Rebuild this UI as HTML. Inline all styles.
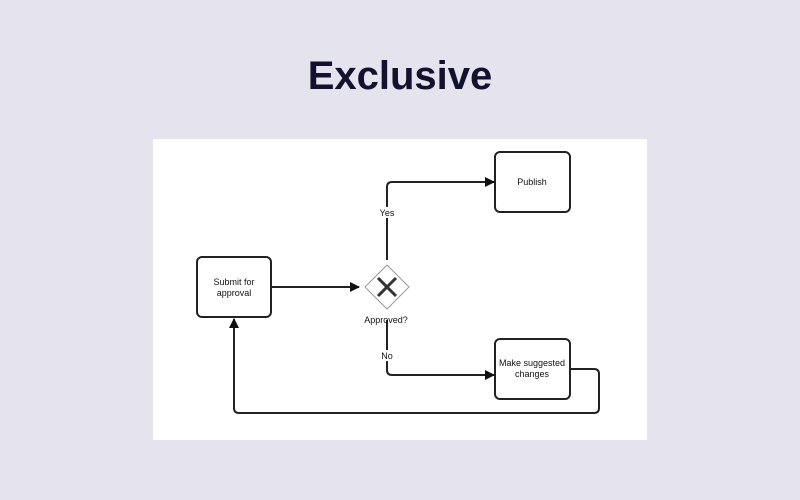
<!DOCTYPE html>
<html><head><style>
html,body{margin:0;padding:0;width:800px;height:500px;background:#e4e3ee;overflow:hidden;font-family:"Liberation Sans",sans-serif}
h1{position:absolute;top:51px;left:0;width:800px;text-align:center;margin:0;font-size:40px;font-weight:bold;color:#13112d;line-height:50px}
</style></head><body>
<h1>Exclusive</h1>
<svg width="800" height="500" style="position:absolute;left:0;top:0" font-family="Liberation Sans, sans-serif">
<defs><marker id="a" markerWidth="10" markerHeight="10" refX="9" refY="5" orient="auto" markerUnits="userSpaceOnUse"><path d="M0,0 L10,5 L0,10z" fill="#111"/></marker></defs>
<rect x="153" y="139" width="494" height="301" fill="#fff"/>
<g fill="none" stroke="#222" stroke-width="2">
<rect x="197" y="257" width="74" height="60" rx="5"/>
<rect x="495" y="152" width="75" height="60" rx="5"/>
<rect x="495" y="339" width="75" height="60" rx="5"/>
<path d="M271,287 H359" marker-end="url(#a)"/>
<path d="M387,260 V187 Q387,182 392,182 H494" marker-end="url(#a)"/>
<path d="M387,320 V370 Q387,375 392,375 H494" marker-end="url(#a)"/>
<path d="M570,369 H594 Q599,369 599,374 V408 Q599,413 594,413 H239 Q234,413 234,408 V319" marker-end="url(#a)"/>
</g>
<path d="M387,265 L409,287 L387,309 L365,287z" fill="#fff" stroke="#999" stroke-width="1"/>
<path d="M378,278 L396,296 M396,278 L378,296" stroke="#333" stroke-width="3"/>
<g font-size="9" fill="#111" text-anchor="middle">
<text x="234" y="285">Submit for</text><text x="234" y="296">approval</text>
<text x="532" y="185">Publish</text>
<text x="532" y="366">Make suggested</text><text x="532" y="377">changes</text>
<rect x="377" y="207" width="20" height="11" fill="#fff"/><text x="387" y="216">Yes</text>
<rect x="378" y="350" width="18" height="11" fill="#fff"/><text x="387" y="359">No</text>
<text x="386" y="323">Approved?</text>
</g>
</svg>
</body></html>
